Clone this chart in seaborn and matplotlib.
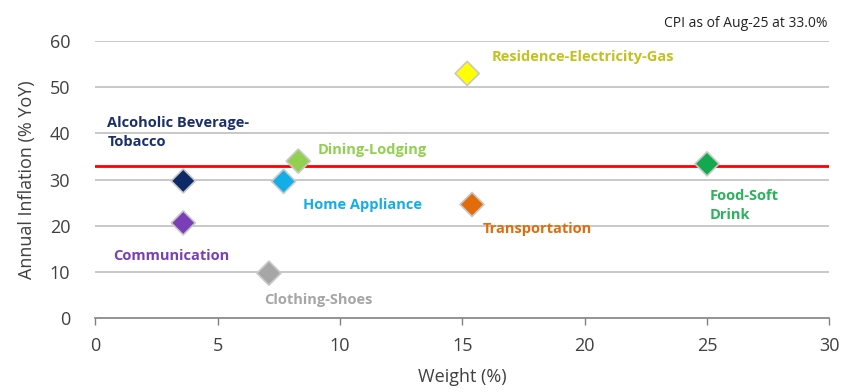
import matplotlib
matplotlib.use("Agg")
import matplotlib.pyplot as plt
import seaborn as sns
import pandas as pd

categories = ["Alcoholic Beverage-\nTobacco", "Communication", "Clothing-Shoes", "Home Appliance",
              "Dining-Lodging", "Residence-Electricity-Gas", "Transportation", "Food-Soft\nDrink"]
weights = [3.6, 3.6, 7.1, 7.7, 8.3, 15.2, 15.4, 25.0]
inflation = [29.7, 20.6, 9.7, 29.6, 34.0, 53.0, 24.6, 33.4]
marker_colors = ["#0d2a66", "#7a3fb8", "#a6a6a6", "#13aee8", "#92d050", "#ffff00", "#e36c0a", "#14a84f"]
label_colors = ["#1a2f6b", "#7a3fb8", "#a6a6a6", "#13aee8", "#92d050", "#c2c21e", "#e36c0a", "#2bb35c"]
cpi = 33.0
cpi_label = "CPI as of Aug-25 at 33.0%"
# label anchor positions (data coords)
label_x = [0.5, 0.75, 6.9, 8.5, 9.1, 16.2, 15.85, 25.1]
label_y = [40.3, 13.5, 3.9, 24.4, 36.4, 56.5, 19.2, 24.4]

df = pd.DataFrame({"cat": categories, "w": weights, "inf": inflation})

sns.set_theme(style="white")
plt.rcParams["font.family"] = ["Open Sans", "DejaVu Sans"]

fig = plt.figure(figsize=(8.42, 3.92), dpi=100)
ax = fig.add_axes([0.113, 0.189, 0.872, 0.706])

ax.set_xlim(0, 30)
ax.set_ylim(0, 60)
for yv in range(10, 61, 10):
    ax.axhline(yv, color="#bfbfbf", lw=1.2, zorder=0)
ax.axhline(cpi, color="#ff0000", lw=2, zorder=1)

sns.scatterplot(data=df, x="w", y="inf", hue="cat", palette=dict(zip(categories, marker_colors)),
                marker="D", s=150, edgecolor="#c8c8c8", linewidth=1.2, legend=False, ax=ax, zorder=3)

for c, lx, ly, col in zip(categories, label_x, label_y, label_colors):
    ax.text(lx, ly, c, color=col, fontsize=10.5, fontweight="bold", ha="left", va="center",
            linespacing=1.45)

fig.text(0.983, 0.94, cpi_label, ha="right", va="center", fontsize=10, color="#222222")

ax.set_xticks(range(0, 31, 5))
ax.set_yticks(range(0, 61, 10))
ax.tick_params(axis="both", labelsize=13, colors="#404040", length=0)
ax.tick_params(axis="x", length=5, direction="out", color="#808080", width=1, bottom=True, pad=9)
ax.tick_params(axis="y", pad=18)
for s in ["top", "right", "left"]:
    ax.spines[s].set_visible(False)
ax.spines["bottom"].set_color("#808080")
ax.spines["bottom"].set_linewidth(1.2)
ax.set_xlabel("Weight (%)", fontsize=13, color="#404040", labelpad=9)
ax.set_ylabel("Annual Inflation (% YoY)", fontsize=13, color="#404040", labelpad=10)

fig.savefig("out.png", dpi=100)
